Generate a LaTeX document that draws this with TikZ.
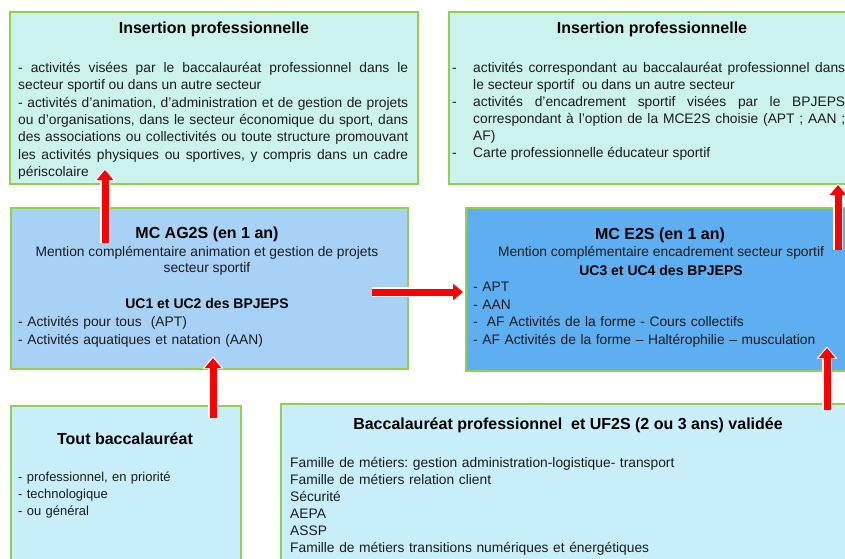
\documentclass[tikz,border=0pt]{standalone}
\usepackage{fontspec}
\setmainfont{Liberation Sans}
\usetikzlibrary{arrows.meta}
\frenchspacing
\definecolor{topfill}{HTML}{CCF2EE}
\definecolor{lbfill}{HTML}{A8D2F5}
\definecolor{dbfill}{HTML}{5EAEF2}
\definecolor{botfill}{HTML}{C8EEFA}
\definecolor{edge}{HTML}{92D050}
\definecolor{ink}{HTML}{1C1C1C}
\newcommand\fs{\rule{0pt}{12pt}}
\newcommand\pp{\par\noindent}
\begin{document}
\begin{tikzpicture}[x=1pt,y=-1pt,
  box/.style={draw=edge, line width=2pt, anchor=north west, inner sep=0pt},
  title/.style={anchor=base, inner sep=0pt, font=\fontsize{16}{19}\selectfont\bfseries, text=black},
  sub/.style={anchor=base, inner sep=0pt, font=\fontsize{14}{17}\selectfont\bfseries, text=black},
  body/.style={anchor=north west, inner sep=0pt, font=\fontsize{13.8}{17}\selectfont, text=ink},
  cline/.style={anchor=base, inner sep=0pt, font=\fontsize{13.8}{17}\selectfont, text=ink},
  bigarrow/.style={draw=red, line width=7pt, -{Triangle[length=10pt,width=16pt]},
    preaction={draw=white, line width=10pt, -{Triangle[length=12pt,width=20pt]}, shorten >=-1.5pt}}]
\useasboundingbox (0,0) rectangle (845,558);
\clip (0,0) rectangle (845,558);
\fill[white] (0,0) rectangle (845,558);

% boxes
\node[box, fill=topfill, minimum width=408pt, minimum height=172pt] (ip1) at (9,11) {};
\node[box, fill=topfill, minimum width=412pt, minimum height=172pt] (ip2) at (448,11) {};
\node[box, fill=lbfill, minimum width=397pt, minimum height=161pt] (ag) at (10,207) {};
\node[box, fill=dbfill, minimum width=395pt, minimum height=163pt] (es) at (465,207) {};
\node[box, fill=botfill, minimum width=230pt, minimum height=170pt] (tb) at (10,405) {};
\node[box, fill=botfill, minimum width=580pt, minimum height=170pt] (bp) at (280,403) {};

% top-left
\node[title] (ip1t) at (214,33) {Insertion professionnelle};
\node[body, text width=390pt, align=justify, font=\fontsize{13.8}{17.4}\selectfont] (ip1b) at (18,60) {\tolerance=9999\parindent=0pt\fs- activités visées par le baccalauréat professionnel dans le\linebreak secteur sportif ou dans un autre secteur\pp - activités d'animation, d'administration et de gestion de projets\linebreak ou d'organisations, dans le secteur économique du sport, dans\linebreak des associations ou collectivités ou toute structure promouvant\linebreak les activités physiques ou sportives, y compris dans un cadre\linebreak périscolaire};

% top-right
\node[title] (ip2t) at (652,33) {Insertion professionnelle};
\node[body, text width=393pt, align=justify] (ip2b) at (452,60) {\tolerance=9999\parindent=0pt\noindent\hangindent=21pt\hangafter=1\fs\makebox[21pt][l]{-}activités correspondant au baccalauréat professionnel dans\linebreak le secteur sportif\ \ ou dans un autre secteur\pp\hangindent=21pt\hangafter=1\makebox[21pt][l]{-}activités d'encadrement sportif visées par le BPJEPS\linebreak correspondant à l'option de la MCE2S choisie (APT ; AAN ;\linebreak AF)\pp\hangindent=21pt\hangafter=1\makebox[21pt][l]{-}Carte professionnelle éducateur sportif};

% MC AG2S
\node[title] (agt) at (207,238) {MC AG2S (en 1 an)};
\node[cline] (agm1) at (207,256.5) {Mention complémentaire animation et gestion de projets};
\node[cline] (agm2) at (207,272.5) {secteur sportif};
\node[sub] (aguc) at (207,308) {UC1 et UC2 des BPJEPS};
\node[body, text width=380pt, align=left, font=\fontsize{13.8}{17.6}\selectfont] (agl) at (18,314.5) {\fs- Activités pour tous\ \ (APT)\\- Activités aquatiques et natation (AAN)};

% MC E2S
\node[title] (est) at (660,239) {MC E2S (en 1 an)};
\node[cline] (esm) at (661,256.5) {Mention complémentaire encadrement secteur sportif};
\node[sub] (esuc) at (661,275) {UC3 et UC4 des BPJEPS};
\node[body, text width=370pt, align=left, font=\fontsize{13.8}{17.6}\selectfont] (esl) at (473,279.5) {\fs- APT\\- AAN\\-\ \ AF Activités de la forme - Cours collectifs\\- AF Activités de la forme – Haltérophilie – musculation};

% Tout bac
\node[title] (tbt) at (125,444) {Tout baccalauréat};
\node[body, text width=220pt, align=left, font=\fontsize{13}{17}\selectfont] (tbl) at (18,469.5) {\fs- professionnel, en priorité\\- technologique\\- ou général};

% Bac pro
\node[title] (bpt) at (568,429) {Baccalauréat professionnel\ \ et UF2S (2 ou 3 ans) validée};
\node[body, text width=540pt, align=left] (bpl) at (290,455.5) {\fs Famille de métiers: gestion administration-logistique- transport\\Famille de métiers relation client\\Sécurité\\AEPA\\ASSP\\Famille de métiers transitions numériques et énergétiques};

% arrows
\coordinate (a1s) at (105,243); \coordinate (a1e) at (105,170);
\coordinate (a2s) at (213,418); \coordinate (a2e) at (213,358);
\coordinate (a3s) at (372,292); \coordinate (a3e) at (463,292);
\coordinate (a4s) at (838,250); \coordinate (a4e) at (838,185);
\coordinate (a5s) at (827,410); \coordinate (a5e) at (827,348);
\draw[bigarrow] (a1s) -- (a1e);
\draw[bigarrow] (a2s) -- (a2e);
\draw[bigarrow] (a3s) -- (a3e);
\draw[bigarrow] (a4s) -- (a4e);
\draw[bigarrow] (a5s) -- (a5e);
\end{tikzpicture}
\end{document}
